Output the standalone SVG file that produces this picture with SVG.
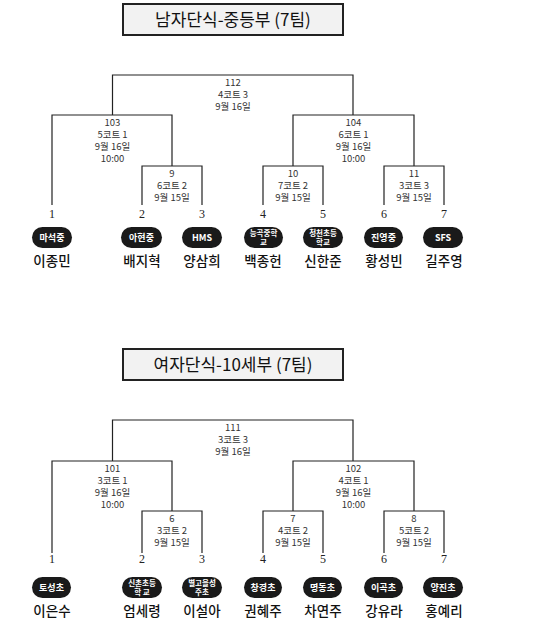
<svg xmlns="http://www.w3.org/2000/svg" width="550" height="633" viewBox="0 0 550 633">
<style>
.bg{fill:#ffffff}
.title rect{fill:#f2f2f2;stroke:#222;stroke-width:2}
.title text{font-family:"Noto Sans CJK KR","Noto Sans",sans-serif;font-size:17px;fill:#111;text-anchor:middle}
.ln{fill:none;stroke:#222;stroke-width:1.2}
.lbl{font-family:"Noto Sans CJK KR","Noto Sans",sans-serif;font-size:9.5px;fill:#333;text-anchor:middle}
.num{font-family:"Liberation Serif",serif;font-size:12px;fill:#222;text-anchor:middle}
.pill{fill:#1a1a1a}
.pt{font-family:"Noto Sans CJK KR","Noto Sans",sans-serif;font-size:9px;font-weight:700;fill:#fff;text-anchor:middle}
.pt2{font-family:"Noto Sans CJK KR","Noto Sans",sans-serif;font-size:7.5px;font-weight:700;fill:#fff;text-anchor:middle}
.nm{font-family:"Noto Sans CJK KR","Noto Sans",sans-serif;font-size:13.5px;font-weight:500;fill:#111;text-anchor:middle}
</style>
<rect class="bg" x="0" y="0" width="550" height="633"/>

<g id="title1" class="title"><rect x="123" y="4" width="220" height="31"/><text x="233" y="26">남자단식-중등부 (7팀)</text></g>
<g id="title2" class="title"><rect x="123" y="349" width="220" height="31"/><text x="233" y="371">여자단식-10세부 (7팀)</text></g>

<g id="connectors">
<path class="ln" d="M112.5,115 V75 H353 V115"/>
<path class="ln" d="M52,205 V115 H172 V166"/>
<path class="ln" d="M142,205 V166 H202 V205"/>
<path class="ln" d="M263,205 V166 H323 V205"/>
<path class="ln" d="M293,166 V115 H414 V166"/>
<path class="ln" d="M384,205 V166 H444 V205"/>

<path class="ln" d="M112.5,461 V420 H353 V461"/>
<path class="ln" d="M52,553 V461 H172 V511"/>
<path class="ln" d="M142,553 V511 H202 V553"/>
<path class="ln" d="M263,553 V511 H323 V553"/>
<path class="ln" d="M293,511 V461 H414 V511"/>
<path class="ln" d="M384,553 V511 H444 V553"/>
</g>

<g id="m112" class="lbl"><text x="233" y="86">112</text><text x="233" y="98">4코트 3</text><text x="233" y="110">9월 16일</text></g>
<g id="m103" class="lbl"><text x="112.5" y="126">103</text><text x="112.5" y="138">5코트 1</text><text x="112.5" y="150">9월 16일</text><text x="112.5" y="162">10:00</text></g>
<g id="m104" class="lbl"><text x="353.5" y="126">104</text><text x="353.5" y="138">6코트 1</text><text x="353.5" y="150">9월 16일</text><text x="353.5" y="162">10:00</text></g>
<g id="m9" class="lbl"><text x="172" y="177">9</text><text x="172" y="189">6코트 2</text><text x="172" y="201">9월 15일</text></g>
<g id="m10" class="lbl"><text x="293" y="177">10</text><text x="293" y="189">7코트 2</text><text x="293" y="201">9월 15일</text></g>
<g id="m11" class="lbl"><text x="414" y="177">11</text><text x="414" y="189">3코트 3</text><text x="414" y="201">9월 15일</text></g>

<g id="p1"><text class="num" x="52" y="218">1</text><rect class="pill" x="32" y="227" width="40" height="21" rx="10.5"/><text class="pt" x="52" y="241">마석중</text><text class="nm" x="52" y="266">이종민</text></g>
<g id="p2"><text class="num" x="142" y="218">2</text><rect class="pill" x="121" y="227" width="41" height="21" rx="10.5"/><text class="pt" x="141.5" y="241">아현중</text><text class="nm" x="142" y="266">배지혁</text></g>
<g id="p3"><text class="num" x="202" y="218">3</text><rect class="pill" x="182" y="227" width="40" height="21" rx="10.5"/><text class="pt" x="202" y="241">HMS</text><text class="nm" x="202" y="266">양삼희</text></g>
<g id="p4"><text class="num" x="263" y="218">4</text><rect class="pill" x="244" y="227" width="39" height="21" rx="10.5"/><text class="pt2" x="263.5" y="235.5">능곡중학</text><text class="pt2" x="263.5" y="245">교</text><text class="nm" x="263" y="266">백종헌</text></g>
<g id="p5"><text class="num" x="323" y="218">5</text><rect class="pill" x="303" y="227" width="40" height="21" rx="10.5"/><text class="pt2" x="323" y="235.5">청천초등</text><text class="pt2" x="323" y="245">학교</text><text class="nm" x="323" y="266">신한준</text></g>
<g id="p6"><text class="num" x="384" y="218">6</text><rect class="pill" x="364" y="227" width="39" height="21" rx="10.5"/><text class="pt" x="383.5" y="241">진영중</text><text class="nm" x="384" y="266">황성빈</text></g>
<g id="p7"><text class="num" x="444" y="218">7</text><rect class="pill" x="423" y="227" width="40" height="21" rx="10.5"/><text class="pt" x="443" y="241">SFS</text><text class="nm" x="444" y="266">길주영</text></g>

<g id="m111" class="lbl"><text x="233" y="431">111</text><text x="233" y="443">3코트 3</text><text x="233" y="455">9월 16일</text></g>
<g id="m101" class="lbl"><text x="112.5" y="472">101</text><text x="112.5" y="484">3코트 1</text><text x="112.5" y="496">9월 16일</text><text x="112.5" y="508">10:00</text></g>
<g id="m102" class="lbl"><text x="353.5" y="472">102</text><text x="353.5" y="484">4코트 1</text><text x="353.5" y="496">9월 16일</text><text x="353.5" y="508">10:00</text></g>
<g id="m6" class="lbl"><text x="172" y="522">6</text><text x="172" y="534">3코트 2</text><text x="172" y="546">9월 15일</text></g>
<g id="m7" class="lbl"><text x="293" y="522">7</text><text x="293" y="534">4코트 2</text><text x="293" y="546">9월 15일</text></g>
<g id="m8" class="lbl"><text x="414" y="522">8</text><text x="414" y="534">5코트 2</text><text x="414" y="546">9월 15일</text></g>

<g id="q1"><text class="num" x="52" y="563">1</text><rect class="pill" x="32" y="577" width="39" height="21" rx="10.5"/><text class="pt" x="51.5" y="591">토성초</text><text class="nm" x="52" y="616">이은수</text></g>
<g id="q2"><text class="num" x="142" y="563">2</text><rect class="pill" x="122" y="577" width="40" height="21" rx="10.5"/><text class="pt2" x="142" y="585.5">신촌초등</text><text class="pt2" x="142" y="595">학 교</text><text class="nm" x="142" y="616">엄세령</text></g>
<g id="q3"><text class="num" x="202" y="563">3</text><rect class="pill" x="182" y="577" width="40" height="21" rx="10.5"/><text class="pt2" x="202" y="585.5">별고을성</text><text class="pt2" x="202" y="595">주초</text><text class="nm" x="202" y="616">이설아</text></g>
<g id="q4"><text class="num" x="263" y="563">4</text><rect class="pill" x="244" y="577" width="38" height="21" rx="10.5"/><text class="pt" x="263" y="591">창경초</text><text class="nm" x="263" y="616">권혜주</text></g>
<g id="q5"><text class="num" x="323" y="563">5</text><rect class="pill" x="303" y="577" width="39" height="21" rx="10.5"/><text class="pt" x="322.5" y="591">명동초</text><text class="nm" x="323" y="616">차연주</text></g>
<g id="q6"><text class="num" x="384" y="563">6</text><rect class="pill" x="364" y="577" width="39" height="21" rx="10.5"/><text class="pt" x="383.5" y="591">이곡초</text><text class="nm" x="384" y="616">강유라</text></g>
<g id="q7"><text class="num" x="444" y="563">7</text><rect class="pill" x="423" y="577" width="40" height="21" rx="10.5"/><text class="pt" x="443" y="591">양진초</text><text class="nm" x="444" y="616">홍예리</text></g>
</svg>
